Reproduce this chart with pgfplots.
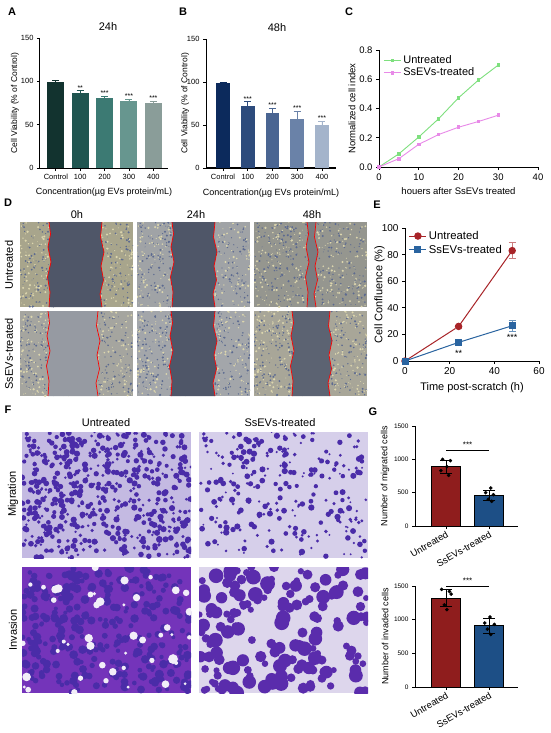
\documentclass[border=0pt]{standalone}
\usepackage{fontspec}
\setmainfont{Liberation Sans}
\usepackage{pgfplots}
\pgfplotsset{compat=1.18}
\newcommand{\FS}[1]{\fontsize{#1}{#1}\selectfont}

\definecolor{aA}{HTML}{12332F}
\definecolor{aB}{HTML}{1F5550}
\definecolor{aC}{HTML}{3C7A73}
\definecolor{aD}{HTML}{67968F}
\definecolor{aE}{HTML}{8A9D99}
\definecolor{bA}{HTML}{0C2A5C}
\definecolor{bB}{HTML}{2D4B7C}
\definecolor{bC}{HTML}{4A6592}
\definecolor{bD}{HTML}{6A82A8}
\definecolor{bE}{HTML}{A4B4CB}
\definecolor{cG}{HTML}{7EE07E}
\definecolor{cP}{HTML}{E88AE8}
\definecolor{eR}{HTML}{A82428}
\definecolor{eB}{HTML}{2A64A0}
\definecolor{gR}{HTML}{8F1D1D}
\definecolor{gB}{HTML}{1D4F86}
% image tones (decoration)
\definecolor{gapD}{HTML}{4F5668}
\definecolor{gapM}{HTML}{7A7C80}
\definecolor{gapL}{HTML}{969AA2}
\definecolor{gapS}{HTML}{5C6372}
\definecolor{cel1}{HTML}{A8A58C}
\definecolor{cel2}{HTML}{A0A3A6}
\definecolor{cel3}{HTML}{95968F}
\definecolor{cel4}{HTML}{A5A59F}
\definecolor{cel5}{HTML}{A3A6AA}
\definecolor{cel6}{HTML}{A8A698}
\definecolor{dotB}{HTML}{5C6A90}
\definecolor{dotY}{HTML}{DCD6AE}
\definecolor{twBg1}{HTML}{C4BAE2}
\definecolor{twBg2}{HTML}{D6CFEA}
\definecolor{twBg3}{HTML}{7434BA}
\definecolor{twBg4}{HTML}{DDD6EC}
\definecolor{twCell}{HTML}{4A2CA8}
\definecolor{twCell2}{HTML}{5A2CAC}
\definecolor{twHole}{HTML}{F2EEF8}

% decorative texture (not data)
\newcommand{\blobs}[9]{%
 \foreach \i in {1,...,#5}{%
  \pgfmathsetmacro\j{\i+#9}%
  \pgfmathsetmacro\ta{abs(43.758*sin(\j*7.9898)+17.31*sin(\j*2.3371))}%
  \pgfmathsetmacro\tb{abs(37.12*sin(\j*5.2331)+21.7*sin(\j*8.6113))}%
  \pgfmathsetmacro\tc{abs(29.3*sin(\j*3.4251)+11.1*sin(\j*6.9137))}%
  \pgfmathsetmacro\px{#1+#3*(\ta-floor(\ta))}%
  \pgfmathsetmacro\py{#2+#4*(\tb-floor(\tb))}%
  \pgfmathsetmacro\pr{#7+#8*(\tc-floor(\tc))}%
  \fill[#6] (\px,\py) circle (\pr pt);
 }}
\newcommand{\scratch}[8]{%
 \begin{scope}
 \clip (#1,#2) rectangle ({#1+113},{#2+85});
 \fill[#5] (#1,#2) rectangle ({#1+113},{#2+85});
 \blobs{#1}{#2}{113}{85}{300}{#7}{0.4}{0.8}{#8}
 \blobs{#1}{#2}{113}{85}{260}{dotY}{0.4}{0.9}{#8+500}
 \fill[#6] (#3,#2) -- ({#3+1.5},{#2+12}) -- ({#3-1},{#2+25}) -- ({#3+2},{#2+40}) -- ({#3-1.5},{#2+55}) -- ({#3+1},{#2+70}) -- (#3,{#2+85})
   -- (#4,{#2+85}) -- ({#4-2},{#2+72}) -- ({#4+1.5},{#2+58}) -- ({#4-1},{#2+44}) -- ({#4+2},{#2+30}) -- ({#4-1.5},{#2+15}) -- (#4,#2) -- cycle;
 \draw[red, line width=0.7pt] (#3,#2) -- ({#3+1.5},{#2+12}) -- ({#3-1},{#2+25}) -- ({#3+2},{#2+40}) -- ({#3-1.5},{#2+55}) -- ({#3+1},{#2+70}) -- (#3,{#2+85});
 \draw[red, line width=0.7pt] (#4,#2) -- ({#4-1.5},{#2+15}) -- ({#4+2},{#2+30}) -- ({#4-1},{#2+44}) -- ({#4+1.5},{#2+58}) -- ({#4-2},{#2+72}) -- (#4,{#2+85});
 \end{scope}}

\pgfplotsset{
 gp/.style={scale only axis, clip=false, enlargelimits=false,
   axis lines=left, axis line style={line width=1pt,-},
   every tick/.style={line width=0.8pt, black},
   tick align=outside, major tick length=3pt,
   tick label style={font=\FS{7.5}}, label style={font=\FS{8.5}},
   /pgf/number format/assume math mode=true,
   /pgf/number format/1000 sep={}},
 yl/.style={ylabel style={at={(axis description cs:#1,0.5)}, anchor=center}},
 xl/.style={xlabel style={at={(axis description cs:0.5,#1)}, anchor=center}},
 vbar/.style={ybar, bar shift=0pt, fill=#1, draw=none,
   error bars/y dir=plus, error bars/y explicit,
   error bars/error bar style={line width=0.8pt, #1},
   error bars/error mark options={rotate=90, mark size=3.5pt, line width=0.8pt, #1}},
 gbar/.style={ybar, bar shift=0pt, bar width=29pt, fill=#1, draw=black, line width=0.6pt,
   error bars/y dir=both, error bars/y explicit,
   error bars/error bar style={line width=0.8pt, black},
   error bars/error mark options={rotate=90, mark size=6pt, line width=0.8pt, black}},
}

\begin{document}
\begin{tikzpicture}
\useasboundingbox (0pt,0pt) rectangle (550pt,-733pt);
\fill[white] (0pt,0pt) rectangle (550pt,-733pt);

\begin{scope}[x=1pt,y=-1pt]
% panel letters
\node[font=\FS{11}\bfseries] at (12,12) {A};
\node[font=\FS{11}\bfseries] at (183,12) {B};
\node[font=\FS{11}\bfseries] at (349,12) {C};
\node[font=\FS{11}\bfseries] at (8,203) {D};
\node[font=\FS{11}\bfseries] at (377,205) {E};
\node[font=\FS{11}\bfseries] at (8,410) {F};
\node[font=\FS{11}\bfseries] at (373,412) {G};
% titles
\node[font=\FS{11}] at (108,27) {24h};
\node[font=\FS{11}] at (277,28) {48h};
% D
\node[font=\FS{11}] at (77,215) {0h};
\node[font=\FS{11}] at (196,215) {24h};
\node[font=\FS{11}] at (312,215) {48h};
\node[font=\FS{11}, rotate=90] at (9,265) {Untreated};
\node[font=\FS{11}, rotate=90] at (9,354) {SsEVs-treated};
\scratch{20}{222}{49}{102}{cel1}{gapD}{dotB}{1}
\scratch{137}{222}{172}{215}{cel2}{gapD}{dotB}{101}
\scratch{254}{222}{307}{316}{cel3}{gapM}{dotB}{201}
\scratch{20}{311}{48}{98}{cel4}{gapL}{dotB}{301}
\scratch{137}{311}{171}{215}{cel5}{gapD}{dotB}{401}
\scratch{254}{311}{292}{330}{cel6}{gapS}{dotB}{481}
% F
\node[font=\FS{11}] at (106,423) {Untreated};
\node[font=\FS{11}] at (280,423) {SsEVs-treated};
\node[font=\FS{11}, rotate=90] at (13,494) {Migration};
\node[font=\FS{11}, rotate=90] at (13,630) {Invasion};
\begin{scope}
\clip (22,432) rectangle (191,558);
\fill[twBg1] (22,432) rectangle (191,558);
\blobs{22}{432}{169}{126}{560}{twCell}{1.3}{1.9}{3}
\end{scope}
\begin{scope}
\clip (199,432) rectangle (368,558);
\fill[twBg2] (199,432) rectangle (368,558);
\blobs{199}{432}{169}{126}{260}{twCell}{1.0}{2.2}{150}
\end{scope}
\begin{scope}
\clip (22,567) rectangle (191,693);
\fill[twBg3] (22,567) rectangle (191,693);
\blobs{22}{567}{169}{126}{300}{twCell}{2}{2.5}{300}
\blobs{22}{567}{169}{126}{45}{twHole}{1.5}{3.5}{700}
\end{scope}
\begin{scope}
\clip (199,567) rectangle (368,693);
\fill[twBg4] (199,567) rectangle (368,693);
\blobs{199}{567}{169}{126}{160}{twCell2}{3}{4.5}{800}
\end{scope}
\end{scope}

% ---------- A
\begin{axis}[gp, at={(40pt,-168pt)}, anchor=south west, width=128pt, height=130pt,
  xmin=-0.65, xmax=4.6, ymin=0, ymax=150, ytick={0,50,100,150},
  xtick={0,1,2,3,4}, xticklabels={Control,100,200,300,400},
  x tick label style={font=\FS{7.5}},
  xlabel={Concentration(µg EVs protein/mL)}, xlabel style={font=\FS{9}}, xl=-0.185,
  ylabel={Cell Viability (\% of Control)}, yl=-0.195]
\addplot[vbar=aA, bar width=17pt] coordinates {(0,99) +- (0,2.5)};
\addplot[vbar=aB, bar width=17pt] coordinates {(1,86) +- (0,3)};
\addplot[vbar=aC, bar width=17pt] coordinates {(2,80.5) +- (0,2.5)};
\addplot[vbar=aD, bar width=17pt] coordinates {(3,77.5) +- (0,2)};
\addplot[vbar=aE, bar width=17pt] coordinates {(4,75) +- (0,2)};
\node[font=\FS{7}, anchor=south, inner sep=0.5pt] at (axis cs:1,89) {**};
\node[font=\FS{7}, anchor=south, inner sep=0.5pt] at (axis cs:2,83) {***};
\node[font=\FS{7}, anchor=south, inner sep=0.5pt] at (axis cs:3,79.5) {***};
\node[font=\FS{7}, anchor=south, inner sep=0.5pt] at (axis cs:4,77) {***};
\end{axis}

% ---------- B
\begin{axis}[gp, at={(206pt,-168pt)}, anchor=south west, width=130pt, height=129pt,
  xmin=-0.69, xmax=4.57, ymin=0, ymax=150, ytick={0,50,100,150},
  xtick={0,1,2,3,4}, xticklabels={Control,100,200,300,400},
  x tick label style={font=\FS{7.5}},
  xlabel={Concentration(µg EVs protein/mL)}, xlabel style={font=\FS{9}}, xl=-0.194,
  ylabel={Cell Viability (\% of Control)}, yl=-0.16]
\addplot[vbar=bA, bar width=13.5pt] coordinates {(0,99) +- (0,1)};
\addplot[vbar=bB, bar width=13.5pt] coordinates {(1,72.5) +- (0,4.5)};
\addplot[vbar=bC, bar width=13.5pt] coordinates {(2,64.5) +- (0,4.5)};
\addplot[vbar=bD, bar width=13.5pt] coordinates {(3,57.5) +- (0,8)};
\addplot[vbar=bE, bar width=13.5pt] coordinates {(4,49.5) +- (0,5)};
\node[font=\FS{7}, anchor=south, inner sep=0.5pt] at (axis cs:1,77) {***};
\node[font=\FS{7}, anchor=south, inner sep=0.5pt] at (axis cs:2,69) {***};
\node[font=\FS{7}, anchor=south, inner sep=0.5pt] at (axis cs:3,65.5) {***};
\node[font=\FS{7}, anchor=south, inner sep=0.5pt] at (axis cs:4,54.5) {***};
\end{axis}

% ---------- C
\begin{axis}[gp, at={(379pt,-167pt)}, anchor=south west, width=159pt, height=117pt,
  xmin=0, xmax=40, ymin=0, ymax=0.8, xtick={0,10,20,30,40}, ytick={0,0.2,0.4,0.6,0.8},
  tick label style={font=\FS{9.5}},
  yticklabel style={/pgf/number format/.cd, fixed, fixed zerofill, precision=1},
  xlabel={houers after SsEVs treated}, ylabel={Normalized cell index},
  label style={font=\FS{9.5}}, xl=-0.205, yl=-0.17,
  legend style={at={(0.02,0.98)}, anchor=north west, draw=none, fill=none,
    font=\FS{11}, row sep=-1pt, inner sep=1pt},
  legend cell align=left]
\addplot[cG, line width=0.9pt, mark=square*, mark size=1.3pt] coordinates
  {(0,0) (5,0.09) (10,0.205) (15,0.33) (20,0.473) (25,0.594) (30,0.697)};
\addlegendentry{Untreated}
\addplot[cP, line width=0.9pt, mark=square*, mark size=1.3pt] coordinates
  {(0,0) (5,0.057) (10,0.155) (15,0.222) (20,0.272) (25,0.311) (30,0.354)};
\addlegendentry{SsEVs-treated}
\end{axis}

% ---------- E
\begin{axis}[gp, at={(405pt,-361pt)}, anchor=south west, width=134pt, height=133pt,
  xmin=0, xmax=60, ymin=0, ymax=100, xtick={0,20,40,60}, ytick={0,20,40,60,80,100},
  tick label style={font=\FS{10}},
  xlabel={Time post-scratch (h)}, ylabel={Cell Confluence (\%)},
  label style={font=\FS{11}}, xl=-0.2, yl=-0.19,
  legend style={at={(0.02,1.0)}, anchor=north west, draw=none, fill=none,
    font=\FS{11.3}, row sep=0pt, inner sep=1pt},
  legend cell align=left]
\addplot[eR, line width=1pt, mark=*, mark size=3.2pt,
  error bars/y dir=both, error bars/y explicit,
  error bars/error bar style={line width=0.8pt, eR!60!white},
  error bars/error mark options={rotate=90, mark size=3.5pt, eR!60!white}] coordinates
  {(0,0) +- (0,0) (24,26) +- (0,1) (48,83) +- (0,6)};
\addlegendentry{Untreated}
\addplot[eB, line width=1pt, mark=square*, mark size=3pt,
  error bars/y dir=both, error bars/y explicit,
  error bars/error bar style={line width=0.8pt, eB!70!white},
  error bars/error mark options={rotate=90, mark size=3.5pt, eB!70!white}] coordinates
  {(0,0) +- (0,0) (24,14) +- (0,1.5) (48,26.5) +- (0,4)};
\addlegendentry{SsEVs-treated}
\node[font=\FS{9}] at (axis cs:24,6) {**};
\node[font=\FS{9}] at (axis cs:48,17.5) {***};
\end{axis}

% ---------- G top
\begin{axis}[gp, at={(415pt,-526pt)}, anchor=south west, width=103pt, height=100pt,
  xmin=-0.72, xmax=1.67, ymin=0, ymax=1500, ytick={0,500,1000,1500},
  xtick={0,1}, xticklabels={Untreated,SsEVs-treated},
  tick label style={font=\FS{6.5}},
  x tick label style={font=\FS{9.5}, rotate=30, anchor=north east, inner sep=1pt},
  ylabel={Number of migrated cells}, ylabel style={font=\FS{9}}, yl=-0.29]
\addplot[gbar=gR] coordinates {(0,890) +- (0,100)};
\addplot[gbar=gB] coordinates {(1,460) +- (0,70)};
\addplot[only marks, mark=*, mark size=1.6pt, black] coordinates
  {(-0.08,1000) (0.1,980) (0.02,890) (-0.12,830) (0.06,760)};
\addplot[only marks, mark=*, mark size=1.6pt, black] coordinates
  {(1.04,570) (0.92,500) (1.1,470) (0.98,400) (1.06,370)};
\draw[line width=0.8pt] (axis cs:0,1140) -- (axis cs:1,1140);
\node[font=\FS{8}, anchor=south, inner sep=1pt] at (axis cs:0.5,1160) {***};
\end{axis}

% ---------- G bottom
\begin{axis}[gp, at={(415pt,-687pt)}, anchor=south west, width=103pt, height=101pt,
  xmin=-0.72, xmax=1.67, ymin=0, ymax=1500, ytick={0,500,1000,1500},
  xtick={0,1}, xticklabels={Untreated,SsEVs-treated},
  tick label style={font=\FS{6.5}},
  x tick label style={font=\FS{9.5}, rotate=30, anchor=north east, inner sep=1pt},
  ylabel={Number of invaded cells}, ylabel style={font=\FS{9}}, yl=-0.29]
\addplot[gbar=gR] coordinates {(0,1324) +- (0,130)};
\addplot[gbar=gB] coordinates {(1,912) +- (0,110)};
\addplot[only marks, mark=*, mark size=1.6pt, black] coordinates
  {(-0.1,1450) (0.08,1420) (0.12,1380) (-0.04,1220) (0.02,1150)};
\addplot[only marks, mark=*, mark size=1.6pt, black] coordinates
  {(1.02,1040) (0.9,950) (1.12,930) (0.96,860) (1.04,780)};
\draw[line width=0.8pt] (axis cs:0,1500) -- (axis cs:1,1500);
\node[font=\FS{8}, anchor=south, inner sep=1pt] at (axis cs:0.5,1520) {***};
\end{axis}
\end{tikzpicture}
\end{document}
